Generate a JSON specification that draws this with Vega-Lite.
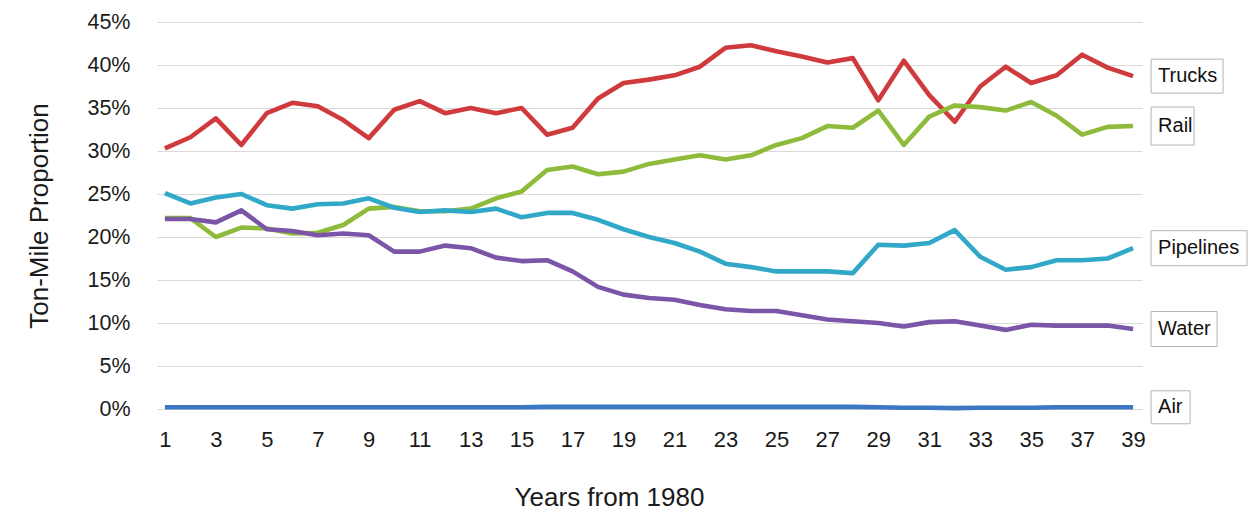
{
  "$schema": "https://vega.github.io/schema/vega-lite/v6.json",
  "width": 985,
  "height": 387,
  "autosize": "none",
  "padding": {"left": 157, "top": 22, "right": 106, "bottom": 113},
  "background": "white",
  "config": {
    "font": "Liberation Sans",
    "view": {"stroke": null},
    "axis": {"labelFont": "Liberation Sans", "titleFont": "Liberation Sans", "labelColor": "#1a1a1a", "titleColor": "#1a1a1a", "titleFontWeight": "normal"}
  },
  "datasets": {
    "series": [
      {"year":1,"mode":"Trucks","v":30.3},{"year":2,"mode":"Trucks","v":31.6},{"year":3,"mode":"Trucks","v":33.8},{"year":4,"mode":"Trucks","v":30.7},{"year":5,"mode":"Trucks","v":34.4},{"year":6,"mode":"Trucks","v":35.6},{"year":7,"mode":"Trucks","v":35.2},{"year":8,"mode":"Trucks","v":33.6},{"year":9,"mode":"Trucks","v":31.5},{"year":10,"mode":"Trucks","v":34.8},{"year":11,"mode":"Trucks","v":35.8},{"year":12,"mode":"Trucks","v":34.4},{"year":13,"mode":"Trucks","v":35.0},{"year":14,"mode":"Trucks","v":34.4},{"year":15,"mode":"Trucks","v":35.0},{"year":16,"mode":"Trucks","v":31.9},{"year":17,"mode":"Trucks","v":32.7},{"year":18,"mode":"Trucks","v":36.1},{"year":19,"mode":"Trucks","v":37.9},{"year":20,"mode":"Trucks","v":38.3},{"year":21,"mode":"Trucks","v":38.8},{"year":22,"mode":"Trucks","v":39.8},{"year":23,"mode":"Trucks","v":42.0},{"year":24,"mode":"Trucks","v":42.3},{"year":25,"mode":"Trucks","v":41.6},{"year":26,"mode":"Trucks","v":41.0},{"year":27,"mode":"Trucks","v":40.3},{"year":28,"mode":"Trucks","v":40.8},{"year":29,"mode":"Trucks","v":35.9},{"year":30,"mode":"Trucks","v":40.5},{"year":31,"mode":"Trucks","v":36.5},{"year":32,"mode":"Trucks","v":33.4},{"year":33,"mode":"Trucks","v":37.5},{"year":34,"mode":"Trucks","v":39.8},{"year":35,"mode":"Trucks","v":37.9},{"year":36,"mode":"Trucks","v":38.8},{"year":37,"mode":"Trucks","v":41.2},{"year":38,"mode":"Trucks","v":39.7},{"year":39,"mode":"Trucks","v":38.7},
      {"year":1,"mode":"Rail","v":22.2},{"year":2,"mode":"Rail","v":22.2},{"year":3,"mode":"Rail","v":20.0},{"year":4,"mode":"Rail","v":21.1},{"year":5,"mode":"Rail","v":21.0},{"year":6,"mode":"Rail","v":20.4},{"year":7,"mode":"Rail","v":20.5},{"year":8,"mode":"Rail","v":21.4},{"year":9,"mode":"Rail","v":23.3},{"year":10,"mode":"Rail","v":23.5},{"year":11,"mode":"Rail","v":23.0},{"year":12,"mode":"Rail","v":23.0},{"year":13,"mode":"Rail","v":23.3},{"year":14,"mode":"Rail","v":24.5},{"year":15,"mode":"Rail","v":25.3},{"year":16,"mode":"Rail","v":27.8},{"year":17,"mode":"Rail","v":28.2},{"year":18,"mode":"Rail","v":27.3},{"year":19,"mode":"Rail","v":27.6},{"year":20,"mode":"Rail","v":28.5},{"year":21,"mode":"Rail","v":29.0},{"year":22,"mode":"Rail","v":29.5},{"year":23,"mode":"Rail","v":29.0},{"year":24,"mode":"Rail","v":29.5},{"year":25,"mode":"Rail","v":30.7},{"year":26,"mode":"Rail","v":31.5},{"year":27,"mode":"Rail","v":32.9},{"year":28,"mode":"Rail","v":32.7},{"year":29,"mode":"Rail","v":34.7},{"year":30,"mode":"Rail","v":30.7},{"year":31,"mode":"Rail","v":34.0},{"year":32,"mode":"Rail","v":35.3},{"year":33,"mode":"Rail","v":35.1},{"year":34,"mode":"Rail","v":34.7},{"year":35,"mode":"Rail","v":35.7},{"year":36,"mode":"Rail","v":34.1},{"year":37,"mode":"Rail","v":31.9},{"year":38,"mode":"Rail","v":32.8},{"year":39,"mode":"Rail","v":32.9},
      {"year":1,"mode":"Pipelines","v":25.1},{"year":2,"mode":"Pipelines","v":23.9},{"year":3,"mode":"Pipelines","v":24.6},{"year":4,"mode":"Pipelines","v":25.0},{"year":5,"mode":"Pipelines","v":23.7},{"year":6,"mode":"Pipelines","v":23.3},{"year":7,"mode":"Pipelines","v":23.8},{"year":8,"mode":"Pipelines","v":23.9},{"year":9,"mode":"Pipelines","v":24.5},{"year":10,"mode":"Pipelines","v":23.4},{"year":11,"mode":"Pipelines","v":22.9},{"year":12,"mode":"Pipelines","v":23.1},{"year":13,"mode":"Pipelines","v":22.9},{"year":14,"mode":"Pipelines","v":23.3},{"year":15,"mode":"Pipelines","v":22.3},{"year":16,"mode":"Pipelines","v":22.8},{"year":17,"mode":"Pipelines","v":22.8},{"year":18,"mode":"Pipelines","v":22.0},{"year":19,"mode":"Pipelines","v":20.9},{"year":20,"mode":"Pipelines","v":20.0},{"year":21,"mode":"Pipelines","v":19.3},{"year":22,"mode":"Pipelines","v":18.3},{"year":23,"mode":"Pipelines","v":16.9},{"year":24,"mode":"Pipelines","v":16.5},{"year":25,"mode":"Pipelines","v":16.0},{"year":26,"mode":"Pipelines","v":16.0},{"year":27,"mode":"Pipelines","v":16.0},{"year":28,"mode":"Pipelines","v":15.8},{"year":29,"mode":"Pipelines","v":19.1},{"year":30,"mode":"Pipelines","v":19.0},{"year":31,"mode":"Pipelines","v":19.3},{"year":32,"mode":"Pipelines","v":20.8},{"year":33,"mode":"Pipelines","v":17.7},{"year":34,"mode":"Pipelines","v":16.2},{"year":35,"mode":"Pipelines","v":16.5},{"year":36,"mode":"Pipelines","v":17.3},{"year":37,"mode":"Pipelines","v":17.3},{"year":38,"mode":"Pipelines","v":17.5},{"year":39,"mode":"Pipelines","v":18.7},
      {"year":1,"mode":"Water","v":22.1},{"year":2,"mode":"Water","v":22.1},{"year":3,"mode":"Water","v":21.7},{"year":4,"mode":"Water","v":23.1},{"year":5,"mode":"Water","v":20.9},{"year":6,"mode":"Water","v":20.7},{"year":7,"mode":"Water","v":20.2},{"year":8,"mode":"Water","v":20.4},{"year":9,"mode":"Water","v":20.2},{"year":10,"mode":"Water","v":18.3},{"year":11,"mode":"Water","v":18.3},{"year":12,"mode":"Water","v":19.0},{"year":13,"mode":"Water","v":18.7},{"year":14,"mode":"Water","v":17.6},{"year":15,"mode":"Water","v":17.2},{"year":16,"mode":"Water","v":17.3},{"year":17,"mode":"Water","v":16.0},{"year":18,"mode":"Water","v":14.2},{"year":19,"mode":"Water","v":13.3},{"year":20,"mode":"Water","v":12.9},{"year":21,"mode":"Water","v":12.7},{"year":22,"mode":"Water","v":12.1},{"year":23,"mode":"Water","v":11.6},{"year":24,"mode":"Water","v":11.4},{"year":25,"mode":"Water","v":11.4},{"year":26,"mode":"Water","v":10.9},{"year":27,"mode":"Water","v":10.4},{"year":28,"mode":"Water","v":10.2},{"year":29,"mode":"Water","v":10.0},{"year":30,"mode":"Water","v":9.6},{"year":31,"mode":"Water","v":10.1},{"year":32,"mode":"Water","v":10.2},{"year":33,"mode":"Water","v":9.7},{"year":34,"mode":"Water","v":9.2},{"year":35,"mode":"Water","v":9.8},{"year":36,"mode":"Water","v":9.7},{"year":37,"mode":"Water","v":9.7},{"year":38,"mode":"Water","v":9.7},{"year":39,"mode":"Water","v":9.3},
      {"year":1,"mode":"Air","v":0.2},{"year":2,"mode":"Air","v":0.2},{"year":3,"mode":"Air","v":0.2},{"year":4,"mode":"Air","v":0.2},{"year":5,"mode":"Air","v":0.2},{"year":6,"mode":"Air","v":0.2},{"year":7,"mode":"Air","v":0.2},{"year":8,"mode":"Air","v":0.2},{"year":9,"mode":"Air","v":0.2},{"year":10,"mode":"Air","v":0.2},{"year":11,"mode":"Air","v":0.2},{"year":12,"mode":"Air","v":0.2},{"year":13,"mode":"Air","v":0.2},{"year":14,"mode":"Air","v":0.2},{"year":15,"mode":"Air","v":0.2},{"year":16,"mode":"Air","v":0.25},{"year":17,"mode":"Air","v":0.25},{"year":18,"mode":"Air","v":0.25},{"year":19,"mode":"Air","v":0.25},{"year":20,"mode":"Air","v":0.25},{"year":21,"mode":"Air","v":0.25},{"year":22,"mode":"Air","v":0.25},{"year":23,"mode":"Air","v":0.25},{"year":24,"mode":"Air","v":0.25},{"year":25,"mode":"Air","v":0.25},{"year":26,"mode":"Air","v":0.25},{"year":27,"mode":"Air","v":0.25},{"year":28,"mode":"Air","v":0.25},{"year":29,"mode":"Air","v":0.2},{"year":30,"mode":"Air","v":0.15},{"year":31,"mode":"Air","v":0.15},{"year":32,"mode":"Air","v":0.1},{"year":33,"mode":"Air","v":0.15},{"year":34,"mode":"Air","v":0.15},{"year":35,"mode":"Air","v":0.15},{"year":36,"mode":"Air","v":0.2},{"year":37,"mode":"Air","v":0.2},{"year":38,"mode":"Air","v":0.2},{"year":39,"mode":"Air","v":0.2}
    ]
  },
  "data": {"name": "series"},
  "encoding": {
    "x": {
      "field": "year", "type": "quantitative",
      "scale": {"domain": [0.69, 39.35], "nice": false, "zero": false},
      "axis": {
        "values": [1,3,5,7,9,11,13,15,17,19,21,23,25,27,29,31,33,35,37,39],
        "grid": false, "domain": false, "ticks": false,
        "labelFontSize": 22, "labelPadding": 20,
        "title": "Years from 1980", "titleFontSize": 26, "titlePadding": 34, "titleX": 452
      }
    },
    "y": {
      "field": "v", "type": "quantitative",
      "scale": {"domain": [0, 45], "nice": false},
      "axis": {
        "values": [0,5,10,15,20,25,30,35,40,45],
        "labelExpr": "datum.value + '%'",
        "grid": true, "gridColor": "#d9d9d9", "gridWidth": 1,
        "domain": false, "ticks": false,
        "labelFontSize": 21.5, "labelPadding": 27,
        "title": "Ton-Mile Proportion", "titleFontSize": 26, "titlePadding": 34
      }
    },
    "color": {
      "field": "mode", "type": "nominal",
      "scale": {"domain": ["Trucks","Rail","Pipelines","Water","Air"], "range": ["#cf3a3c","#8fbb3c","#31a8c8","#7a55a8","#3b77c2"]},
      "legend": null
    }
  },
  "layer": [
    {"mark": {"type": "line", "strokeWidth": 4.6, "strokeJoin": "round"}},
    {
      "transform": [{"filter": "datum.year == 39"}],
      "mark": {"type": "point", "filled": true, "fill": "white", "stroke": "#b5b5b5", "strokeWidth": 1, "opacity": 1, "size": 400, "xOffset": 18},
      "encoding": {
        "shape": {
          "field": "mode", "type": "nominal",
          "scale": {"domain": ["Trucks","Rail","Pipelines","Water","Air"], "range": [
            "M0,-1.7L7.2,-1.7L7.2,1.7L0,1.7Z",
            "M0,-1.9L4.3,-1.9L4.3,1.9L0,1.9Z",
            "M0,-1.75L9.6,-1.75L9.6,1.75L0,1.75Z",
            "M0,-1.75L6.6,-1.75L6.6,1.75L0,1.75Z",
            "M0,-1.65L3.9,-1.65L3.9,1.65L0,1.65Z"
          ]},
          "legend": null
        },
        "color": {"value": "white"}
      }
    },
    {
      "transform": [{"filter": "datum.year == 39"}],
      "mark": {"type": "text", "align": "left", "baseline": "middle", "fontSize": 20, "xOffset": 25},
      "encoding": {"text": {"field": "mode"}, "color": {"value": "#111"}}
    }
  ]
}
